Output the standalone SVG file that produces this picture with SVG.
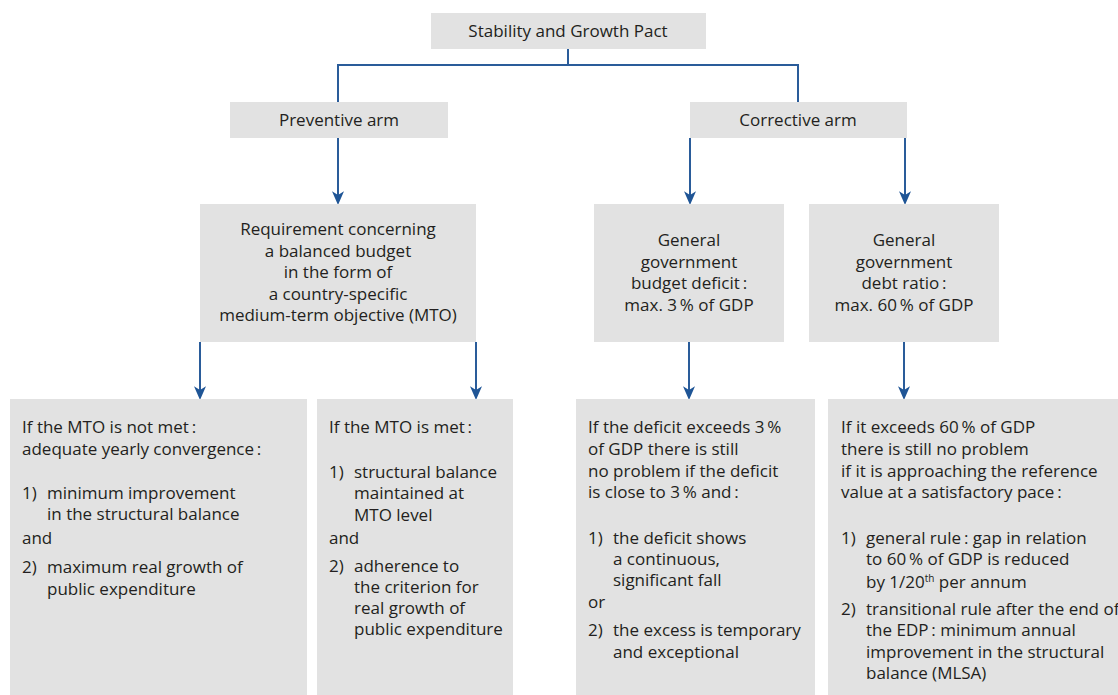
<svg xmlns="http://www.w3.org/2000/svg" width="1118" height="695" viewBox="0 0 1118 695">
<style>
.box{fill:#e2e2e2}
text{font-family:"Open Sans","Noto Sans","Liberation Sans",sans-serif;font-size:17px;fill:#231f20}
.c{text-anchor:middle}
.ln{fill:none;stroke:#2a5c9a;stroke-width:2}
.ar{fill:none;stroke:#2a5c9a;stroke-width:2;marker-end:url(#ah)}
</style>
<defs>
<marker id="ah" markerUnits="userSpaceOnUse" markerWidth="20" markerHeight="20" viewBox="-10 -6 16 12" refX="0" refY="0" orient="auto">
<path d="M4,0 L-7,-4.8 L-4,0 L-7,4.8 Z" fill="#1f5596"/>
</marker>
</defs>
<rect width="1118" height="695" fill="#fff"/>
<g id="connectors">
<path class="ln" d="M568,49 V65 M338,65 H798 M338,64 V102 M798,64 V102"/>
<path class="ar" d="M338,138 V200"/>
<path class="ar" d="M690,138 V200"/>
<path class="ar" d="M905,138 V200"/>
<path class="ar" d="M200,342 V395"/>
<path class="ar" d="M476,342 V395"/>
<path class="ar" d="M689,342 V395"/>
<path class="ar" d="M904,342 V395"/>
</g>
<g id="sgp">
<rect class="box" x="431" y="13" width="275" height="36"/>
<text class="c" x="568" y="37">Stability and Growth Pact</text>
</g>
<g id="preventive">
<rect class="box" x="230" y="102" width="218" height="36"/>
<text class="c" x="339" y="126">Preventive arm</text>
</g>
<g id="corrective">
<rect class="box" x="690" y="102" width="217" height="36"/>
<text class="c" x="798" y="126">Corrective arm</text>
</g>
<g id="mto">
<rect class="box" x="200" y="204" width="276" height="138"/>
<text class="c" x="338" y="235">Requirement concerning</text>
<text class="c" x="338" y="256.5">a balanced budget</text>
<text class="c" x="338" y="278">in the form of</text>
<text class="c" x="338" y="299.5">a country-specific</text>
<text class="c" x="338" y="321">medium-term objective (MTO)</text>
</g>
<g id="deficit">
<rect class="box" x="594" y="204" width="190" height="138"/>
<text class="c" x="689" y="246">General</text>
<text class="c" x="689" y="268">government</text>
<text class="c" x="689" y="289">budget deficit&#8201;:</text>
<text class="c" x="689" y="311">max. 3&#8201;% of GDP</text>
</g>
<g id="debt">
<rect class="box" x="809" y="204" width="190" height="138"/>
<text class="c" x="904" y="246">General</text>
<text class="c" x="904" y="268">government</text>
<text class="c" x="904" y="289">debt ratio&#8201;:</text>
<text class="c" x="904" y="311">max. 60&#8201;% of GDP</text>
</g>
<g id="notmet">
<rect class="box" x="10" y="399" width="297" height="296"/>
<text x="22" y="433">If the MTO is not met&#8201;:</text>
<text x="22" y="455">adequate yearly convergence&#8201;:</text>
<text x="22" y="499">1)</text><text x="47" y="499">minimum improvement</text>
<text x="47" y="520">in the structural balance</text>
<text x="22" y="544">and</text>
<text x="22" y="573">2)</text><text x="47" y="573">maximum real growth of</text>
<text x="47" y="595">public expenditure</text>
</g>
<g id="met">
<rect class="box" x="317" y="399" width="196" height="296"/>
<text x="329" y="433">If the MTO is met&#8201;:</text>
<text x="329" y="478">1)</text><text x="354" y="478">structural balance</text>
<text x="354" y="499">maintained at</text>
<text x="354" y="521">MTO level</text>
<text x="329" y="544">and</text>
<text x="329" y="572">2)</text><text x="354" y="572">adherence to</text>
<text x="354" y="593">the criterion for</text>
<text x="354" y="614">real growth of</text>
<text x="354" y="635">public expenditure</text>
</g>
<g id="deficitrule">
<rect class="box" x="576" y="399" width="239" height="296"/>
<text x="588" y="433">If the deficit exceeds 3&#8201;%</text>
<text x="588" y="455">of GDP there is still</text>
<text x="588" y="477">no problem if the deficit</text>
<text x="588" y="498">is close to 3&#8201;% and&#8201;:</text>
<text x="588" y="544">1)</text><text x="613" y="544">the deficit shows</text>
<text x="613" y="565">a continuous,</text>
<text x="613" y="586">significant fall</text>
<text x="588" y="608">or</text>
<text x="588" y="636">2)</text><text x="613" y="636">the excess is temporary</text>
<text x="613" y="658">and exceptional</text>
</g>
<g id="debtrule">
<rect class="box" x="828" y="399" width="290" height="296"/>
<text x="841" y="433">If it exceeds 60&#8201;% of GDP</text>
<text x="841" y="455">there is still no problem</text>
<text x="841" y="477">if it is approaching the reference</text>
<text x="841" y="498">value at a satisfactory pace&#8201;:</text>
<text x="841" y="544">1)</text><text x="866" y="544">general rule&#8201;: gap in relation</text>
<text x="866" y="565">to 60&#8201;% of GDP is reduced</text>
<text x="866" y="588">by 1/20<tspan font-size="10" dy="-6">th</tspan><tspan dy="6"> per annum</tspan></text>
<text x="841" y="615">2)</text><text x="866" y="615">transitional rule after the end of</text>
<text x="866" y="636">the EDP&#8201;: minimum annual</text>
<text x="866" y="658">improvement in the structural</text>
<text x="866" y="679">balance (MLSA)</text>
</g>
</svg>
